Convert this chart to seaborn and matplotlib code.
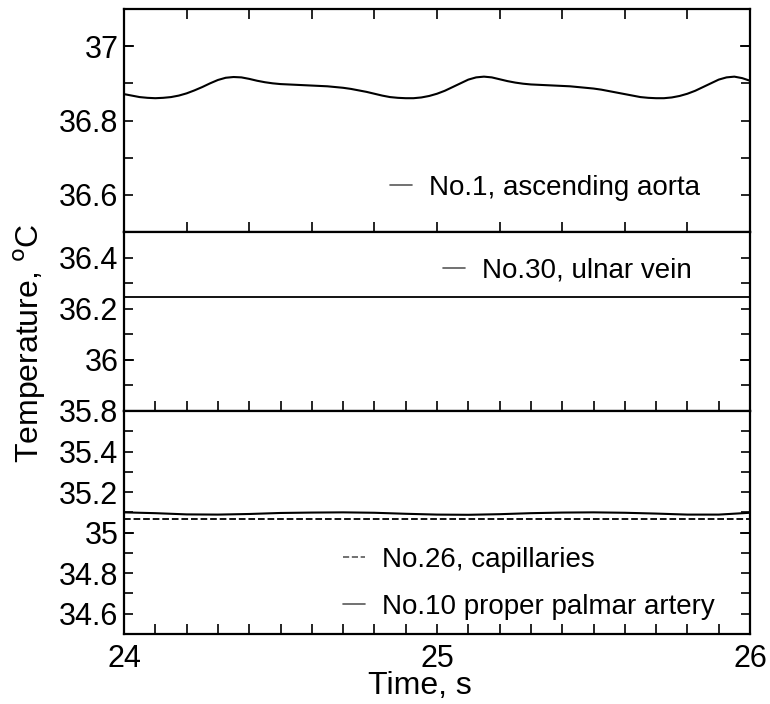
import matplotlib
matplotlib.use('Agg')
import matplotlib.pyplot as plt
from matplotlib.ticker import MultipleLocator, FixedLocator, NullFormatter
import pandas as pd
import seaborn as sns

# No.1 ascending aorta, time (s) and temperature (C)
time_aorta = [24.000, 24.025, 24.050, 24.075, 24.100, 24.125, 24.150, 24.175, 24.200, 24.225,
              24.250, 24.275, 24.300, 24.325, 24.350, 24.375, 24.400, 24.425, 24.450, 24.475,
              24.500, 24.525, 24.550, 24.575, 24.600, 24.625, 24.650, 24.675, 24.700, 24.725,
              24.750, 24.775, 24.800, 24.825, 24.850, 24.875, 24.900, 24.925, 24.950, 24.975,
              25.000, 25.025, 25.050, 25.075, 25.100, 25.125, 25.150, 25.175, 25.200, 25.225,
              25.250, 25.275, 25.300, 25.325, 25.350, 25.375, 25.400, 25.425, 25.450, 25.475,
              25.500, 25.525, 25.550, 25.575, 25.600, 25.625, 25.650, 25.675, 25.700, 25.725,
              25.750, 25.775, 25.800, 25.825, 25.850, 25.875, 25.900, 25.925, 25.950, 25.975,
              26.000]
temp_aorta = [36.871, 36.867, 36.863, 36.861, 36.860, 36.861, 36.863, 36.867, 36.873, 36.881,
              36.890, 36.900, 36.909, 36.915, 36.917, 36.916, 36.912, 36.907, 36.903, 36.900,
              36.898, 36.897, 36.896, 36.895, 36.894, 36.893, 36.892, 36.890, 36.888, 36.885,
              36.881, 36.877, 36.872, 36.867, 36.863, 36.861, 36.860, 36.860, 36.862, 36.866,
              36.872, 36.880, 36.890, 36.900, 36.910, 36.916, 36.918, 36.916, 36.911, 36.906,
              36.902, 36.899, 36.897, 36.896, 36.895, 36.894, 36.893, 36.892, 36.890, 36.888,
              36.886, 36.883, 36.879, 36.875, 36.871, 36.867, 36.863, 36.861, 36.860, 36.860,
              36.862, 36.866, 36.872, 36.880, 36.890, 36.900, 36.910, 36.916, 36.918, 36.914,
              36.907]

# No.30 ulnar vein
time_vein = [24.0, 26.0]
temp_vein = [36.247, 36.247]

# No.10 proper palmar artery
time_palmar = [24.0, 24.1, 24.2, 24.3, 24.4, 24.5, 24.6, 24.7, 24.8, 24.9, 25.0,
               25.1, 25.2, 25.3, 25.4, 25.5, 25.6, 25.7, 25.8, 25.9, 26.0]
temp_palmar = [35.100, 35.096, 35.090, 35.089, 35.092, 35.097, 35.099, 35.100, 35.098, 35.093, 35.089,
               35.088, 35.091, 35.096, 35.099, 35.100, 35.098, 35.094, 35.089, 35.089, 35.098]

# No.26 capillaries
time_capil = [24.0, 26.0]
temp_capil = [35.065, 35.065]

sns.set_style('ticks')
plt.rcParams['font.family'] = ['Liberation Sans', 'DejaVu Sans']
plt.rcParams['text.color'] = 'black'

fig = plt.figure(figsize=(7.7, 7.04), dpi=100)
W, H = 770, 704
def box(top, bot):
    return [124 / W, 1 - bot / H, 626 / W, (bot - top) / H]

ax1 = fig.add_axes(box(9, 232))
ax2 = fig.add_axes(box(232, 411))
ax3 = fig.add_axes(box(411, 634))

sns.lineplot(data=pd.DataFrame({'t': time_aorta, 'T': temp_aorta}), x='t', y='T', ax=ax1,
             color='black', lw=1.5, label='No.1, ascending aorta')
sns.lineplot(data=pd.DataFrame({'t': time_vein, 'T': temp_vein}), x='t', y='T', ax=ax2,
             color='black', lw=1.3, label='No.30, ulnar vein')
sns.lineplot(data=pd.DataFrame({'t': time_capil, 'T': temp_capil}), x='t', y='T', ax=ax3,
             color='black', lw=1.3, linestyle='--', label='No.26, capillaries')
sns.lineplot(data=pd.DataFrame({'t': time_palmar, 'T': temp_palmar}), x='t', y='T', ax=ax3,
             color='black', lw=1.5, label='No.10 proper palmar artery')

ylims = [(36.5, 37.1), (35.8, 36.5), (34.5, 35.6)]
ylabels = [[36.6, 36.8, 37.0], [35.8, 36.0, 36.2, 36.4], [34.6, 34.8, 35.0, 35.2, 35.4]]
for ax, yl, lab in zip([ax1, ax2, ax3], ylims, ylabels):
    ax.set_xlim(24, 26)
    ax.set_ylim(*yl)
    ax.set_xlabel('')
    ax.set_ylabel('')
    for s in ax.spines.values():
        s.set_visible(True)
        s.set_linewidth(1.6)
        s.set_color('black')
    ax.yaxis.set_major_locator(FixedLocator(lab))
    ax.yaxis.set_minor_locator(MultipleLocator(0.1))
    ax.set_yticklabels(['%g' % v for v in lab])
    ax.tick_params(axis='y', which='both', direction='in', left=True, right=True,
                   length=6.5, width=1.2, labelsize=22, pad=4, colors='black')
    ax.tick_params(axis='x', which='both', direction='in', length=7, width=1.2,
                   labelsize=22, colors='black')
    ax.grid(False)

# longer ticks at whole degrees, both sides
def long_ticks(ax, values):
    for v in values:
        ax.plot([0, 0.016], [v, v], transform=ax.get_yaxis_transform(), color='black',
                lw=1.2, solid_capstyle='butt', clip_on=False)
        ax.plot([1, 1 - 0.016], [v, v], transform=ax.get_yaxis_transform(), color='black',
                lw=1.2, solid_capstyle='butt', clip_on=False)

long_ticks(ax1, [37.0])
long_ticks(ax2, [36.0])
long_ticks(ax3, [35.0])

ax1.xaxis.set_major_locator(MultipleLocator(0.2))
ax1.xaxis.set_major_formatter(NullFormatter())
ax1.tick_params(axis='x', top=True, bottom=True, labelbottom=False)

ax2.xaxis.set_major_locator(MultipleLocator(0.1))
ax2.xaxis.set_major_formatter(NullFormatter())
ax2.tick_params(axis='x', top=False, bottom=True, labelbottom=False)

ax3.xaxis.set_major_locator(FixedLocator([24, 25, 26]))
ax3.xaxis.set_minor_locator(MultipleLocator(0.1))
ax3.set_xticklabels(['24', '25', '26'])
ax3.tick_params(axis='x', which='both', top=False, bottom=True, pad=7)

legend_kw = dict(frameon=False, handlelength=0.8, handletextpad=0.6, borderpad=0,
                 borderaxespad=0, fontsize=20, loc='center left', labelcolor='black')
ax1.legend(bbox_to_anchor=(0.425, 0.197), **legend_kw)
ax2.legend(bbox_to_anchor=(0.51, 0.785), **legend_kw)
ax3.legend(bbox_to_anchor=(0.35, 0.228), labelspacing=0.75, **legend_kw)
for ax in (ax1, ax2, ax3):
    for h in ax.get_legend().get_lines():
        h.set_color('0.35')
        h.set_linewidth(1.2)

fig.text(420 / W, 1 - 686 / H, 'Time, s', ha='center', va='center', fontsize=23, color='black')
fig.text(30 / W, 1 - 343 / H, r'Temperature, $^{\rm o}$C', ha='center', va='center',
         rotation=90, fontsize=23, color='black')

fig.savefig('out.png', dpi=100)
plt.close(fig)
